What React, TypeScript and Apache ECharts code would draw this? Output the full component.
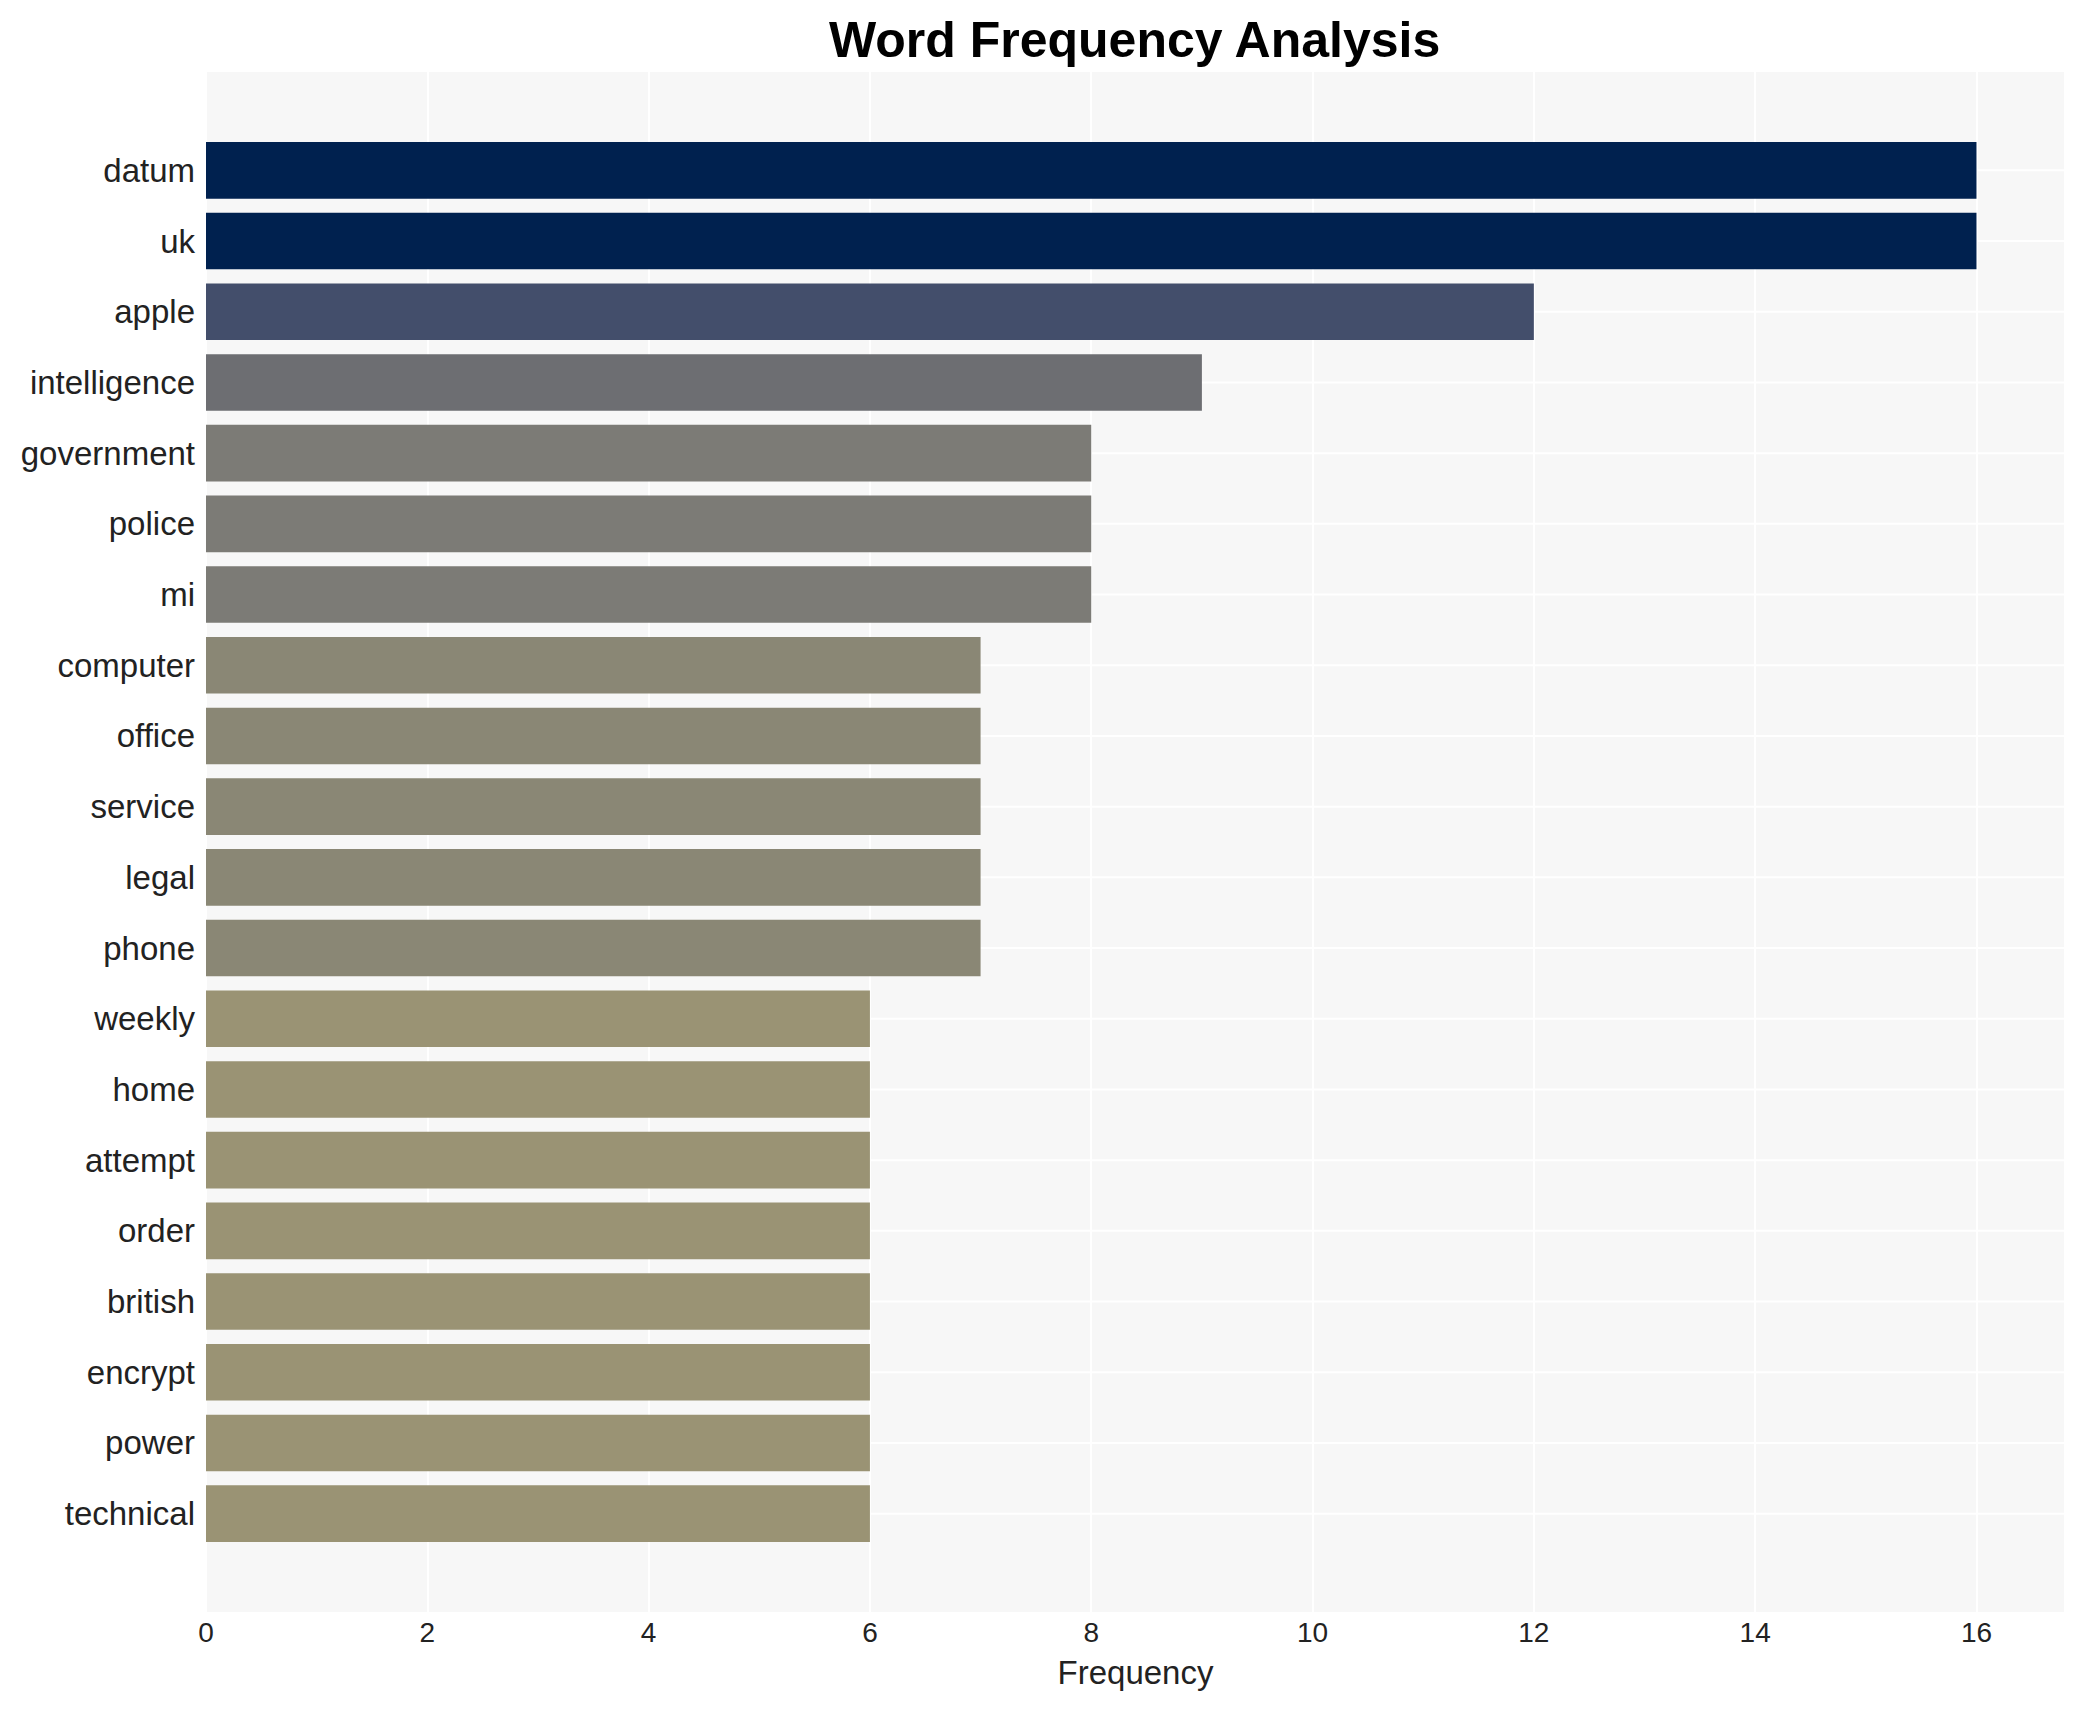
import React, { useEffect, useRef } from "react";
import * as echarts from "echarts";

const categories = [
  "datum", "uk", "apple", "intelligence", "government", "police", "mi",
  "computer", "office", "service", "legal", "phone", "weekly", "home",
  "attempt", "order", "british", "encrypt", "power", "technical",
];
const frequencies = [16, 16, 12, 9, 8, 8, 8, 7, 7, 7, 7, 7, 6, 6, 6, 6, 6, 6, 6, 6];
const barColors = [
  "#00214F", "#00214F", "#434E6B", "#6D6E72", "#7C7B76", "#7C7B76", "#7C7B76",
  "#8A8775", "#8A8775", "#8A8775", "#8A8775", "#8A8775", "#9A9374", "#9A9374",
  "#9A9374", "#9A9374", "#9A9374", "#9A9374", "#9A9374", "#9A9374",
];
const xMin = 0;
const xMax = 16.8;
const xInterval = 2;

const FONT = "'Liberation Sans', Arial, Helvetica, sans-serif";

export default function App() {
  const ref = useRef<HTMLDivElement>(null);
  useEffect(() => {
    if (!ref.current) return;
    const chart = echarts.init(ref.current, null, { renderer: "svg" });
    const left = 206;
    const right = 20;
    chart.setOption({
      animation: false,
      backgroundColor: "#FFFFFF",
      title: {
        text: "Word Frequency Analysis",
        left: 824,
        top: 10,
        textStyle: { fontFamily: FONT, fontSize: 50, fontWeight: "bold", color: "#000000" },
      },
      grid: [
        { left, right, top: 72, height: 1540, show: true, backgroundColor: "#F7F7F7", borderWidth: 0 },
        { left, right, top: 135, height: 1414 },
      ],
      xAxis: [
        {
          gridIndex: 0,
          type: "value",
          min: xMin,
          max: xMax,
          interval: xInterval,
          axisLine: { show: false },
          axisTick: { show: false },
          axisLabel: {
            fontFamily: FONT,
            fontSize: 28,
            color: "#222222",
            margin: 6,
            formatter: (v: number) => (v % 2 === 0 ? String(v) : ""),
          },
          splitLine: { show: true, lineStyle: { color: "#FFFFFF", width: 2 } },
          name: "Frequency",
          nameLocation: "middle",
          nameGap: 44,
          nameTextStyle: { fontFamily: FONT, fontSize: 33, color: "#222222" },
        },
        {
          gridIndex: 1,
          type: "value",
          min: xMin,
          max: xMax,
          interval: xInterval,
          show: false,
          splitLine: { show: false },
        },
      ],
      yAxis: [
        { gridIndex: 0, type: "value", show: false, splitLine: { show: false } },
        {
          gridIndex: 1,
          type: "category",
          data: categories,
          inverse: true,
          axisLine: { show: false },
          axisTick: { show: false },
          splitLine: { show: false },
          axisLabel: { fontFamily: FONT, fontSize: 33, color: "#222222", margin: 11 },
        },
      ],
      series: [
        {
          type: "custom",
          xAxisIndex: 1,
          yAxisIndex: 1,
          z: 1,
          silent: true,
          data: categories.map((c, i) => [0, i]),
          renderItem: (params: any, api: any) => {
            const y = api.coord([0, api.value(1)])[1];
            const cs = params.coordSys;
            return {
              type: "line",
              shape: { x1: cs.x, y1: y, x2: cs.x + cs.width, y2: y },
              style: { stroke: "#FFFFFF", lineWidth: 2 },
            };
          },
        },
        {
          type: "bar",
          xAxisIndex: 1,
          yAxisIndex: 1,
          z: 2,
          barCategoryGap: "20%",
          data: frequencies.map((v, i) => ({ value: v, itemStyle: { color: barColors[i] } })),
        },
      ],
    });
    return () => chart.dispose();
  }, []);
  return (
    <div
      ref={ref}
      style={{ position: "absolute", left: 0, top: 0, width: 2085, height: 1710 }}
    />
  );
}
